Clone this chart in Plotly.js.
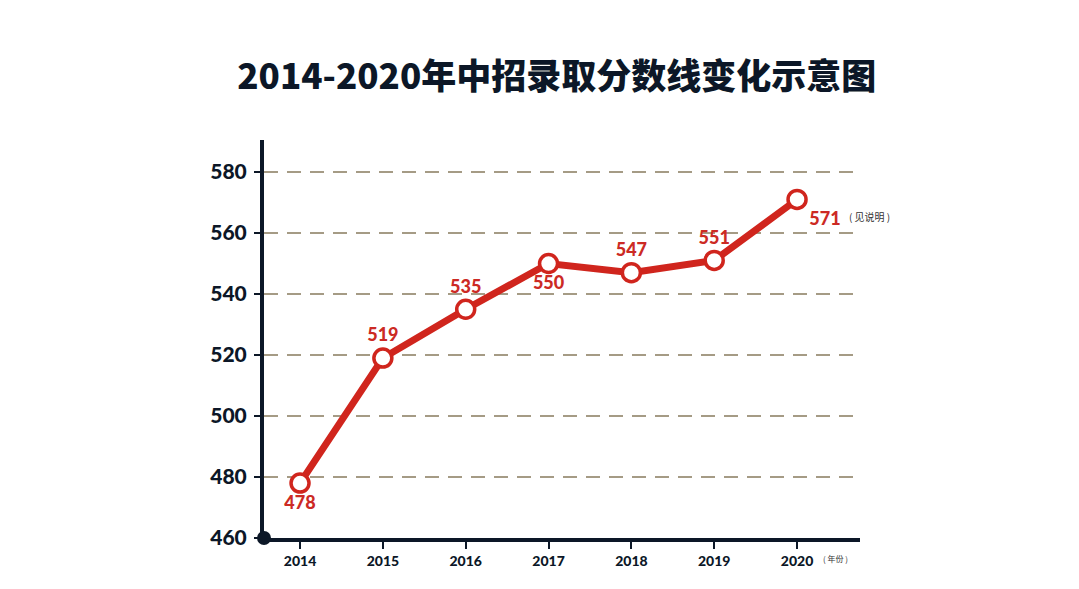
<!DOCTYPE html>
<html>
<head>
<meta charset="utf-8">
<script src="https://cdn.plot.ly/plotly-3.0.1.min.js"></script>
<style>html,body{margin:0;padding:0;background:#fff;}#chart{width:1079px;height:589px;}</style>
</head>
<body>
<div id="chart"></div>
<script>
var years = [2014, 2015, 2016, 2017, 2018, 2019, 2020];
var scores = [478, 519, 535, 550, 547, 551, 571];
var scoreLabels = ['478', '519', '535', '550', '547', '551', '571'];
var labelPositions = ['bottom center', 'top center', 'top center', 'bottom center', 'top center', 'top center', 'bottom right'];
var yTicks = [460, 480, 500, 520, 540, 560, 580];
var titleText = '2014-2020年中招录取分数线变化示意图';
var noteText = '( 见说明 )';
var unitText = '( 年份 )';

var red = '#d0251d';
var navy = '#0c1727';

var line = {
  x: years, y: scores, type: 'scatter', mode: 'lines+markers+text',
  text: scoreLabels, textposition: labelPositions,
  textfont: {family: 'Lato, "Noto Sans", sans-serif', size: 18, color: '#cc2a24', weight: 900},
  line: {color: red, width: 7},
  marker: {symbol: 'circle', size: 18, color: '#ffffff', line: {color: red, width: 3.5}},
  cliponaxis: false, hoverinfo: 'skip', showlegend: false
};
var origin = {
  x: [2013.565], y: [460], type: 'scatter', mode: 'markers',
  marker: {size: 14, color: navy}, cliponaxis: false, showlegend: false, hoverinfo: 'skip'
};

var layout = {
  width: 1079, height: 589,
  margin: {l: 264, r: 219, t: 140, b: 51},
  paper_bgcolor: '#ffffff', plot_bgcolor: '#ffffff',
  title: {
    text: titleText, x: 0.516, xanchor: 'center', y: 0.87, yanchor: 'middle',
    font: {family: '"Noto Sans CJK SC", sans-serif', size: 35, color: navy, weight: 900}
  },
  xaxis: {
    range: [2013.565, 2020.76], tickvals: years, ticktext: years.map(String),
    showgrid: false, zeroline: false,
    showline: true, linecolor: navy, linewidth: 4,
    ticks: 'outside', ticklen: 7, tickwidth: 2, tickcolor: navy,
    tickfont: {family: 'Lato, "Noto Sans", sans-serif', size: 14, color: navy, weight: 900}
  },
  yaxis: {
    range: [460, 590.5], tickvals: yTicks, ticktext: yTicks.map(String),
    showgrid: true, gridcolor: '#a59b85', gridwidth: 2.5, griddash: '14px,9px',
    zeroline: false, showline: true, linecolor: navy, linewidth: 4,
    ticks: 'outside', ticklen: 6, tickwidth: 2, tickcolor: navy,
    ticklabelstandoff: 3,
    tickfont: {family: 'Lato, "Noto Sans", sans-serif', size: 21, color: navy, weight: 900}
  },
  annotations: [
    {x: 2020, y: 571, xref: 'x', yref: 'y', text: noteText, showarrow: false,
     xanchor: 'left', yanchor: 'middle', xshift: 50, yshift: -17,
     font: {family: '"Noto Sans CJK SC", sans-serif', size: 10, color: '#333333'}},
    {x: 2020, y: 0, xref: 'x', yref: 'paper', text: unitText, showarrow: false,
     xanchor: 'left', yanchor: 'top', xshift: 24, yshift: -13,
     font: {family: '"Noto Sans CJK SC", sans-serif', size: 8, color: '#333333'}}
  ]
};

Plotly.newPlot('chart', [line, origin], layout, {displayModeBar: false, staticPlot: true});
</script>
</body>
</html>
